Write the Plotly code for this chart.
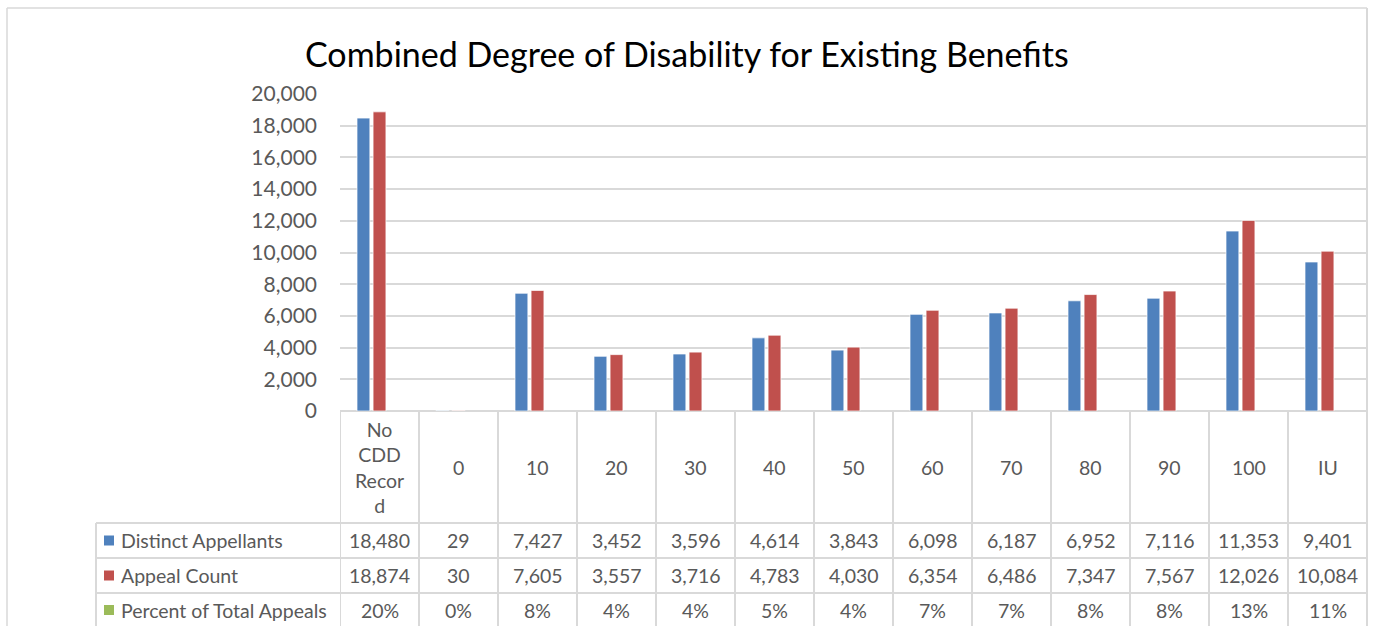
import plotly.graph_objects as go

# ---------------- data ----------------
categories = ["No CDD Record", "0", "10", "20", "30", "40", "50", "60", "70", "80", "90", "100", "IU"]
category_labels = ["No<br>CDD<br>Recor<br>d", "0", "10", "20", "30", "40", "50", "60", "70", "80", "90", "100", "IU"]
distinct_appellants = [18480, 29, 7427, 3452, 3596, 4614, 3843, 6098, 6187, 6952, 7116, 11353, 9401]
appeal_count = [18874, 30, 7605, 3557, 3716, 4783, 4030, 6354, 6486, 7347, 7567, 12026, 10084]
percent_of_total = [20, 0, 8, 4, 4, 5, 4, 7, 7, 8, 8, 13, 11]  # percent
series_names = ["Distinct Appellants", "Appeal Count", "Percent of Total Appeals"]
y_ticks = [0, 2000, 4000, 6000, 8000, 10000, 12000, 14000, 16000, 18000, 20000]

# ---------------- styling ----------------
W, H = 1375, 626
FONT = "Lato"
GRAY_TXT = "#595959"
LINE = "#d9d9d9"
COLORS = ["#4F81BD", "#C0504D", "#9BBB59"]
OUTLINE_W = [1, 1, 0]

# plot area in pixels
PX_L, PX_R, PX_T, PX_B = 340, 1367, 94, 411
TBL_L = 96
ROW_LINES = [523, 558, 593]
ROW_CENTERS = [540.5, 575.5, 610]
CAT_CENTER = 467
TXT = 19.5


def px(x):
    return x / W


def py(y):
    return 1 - y / H


fig = go.Figure()
series_values = [distinct_appellants, appeal_count, [p / 100 for p in percent_of_total]]
for name, vals, col, lw in zip(series_names, series_values, COLORS, OUTLINE_W):
    fig.add_trace(go.Bar(
        x=list(range(len(categories))), y=vals, name=name,
        hovertext=categories,
        marker=dict(color=col, line=dict(color="rgba(255,255,255,0.7)", width=lw)),
    ))


def seg(x0, y0, x1, y1, xref="paper", width=2):
    return dict(type="line", xref=xref, yref="paper", x0=x0, x1=x1, y0=y0, y1=y1,
                line=dict(color=LINE, width=width))


shapes = []
# outer chart border (top, left, right; bottom is outside the view)
shapes.append(seg(px(7), py(8), px(1367), py(8), width=1.5))
shapes.append(seg(px(7), py(8), px(7), py(H), width=1.5))
shapes.append(seg(px(1367), py(8), px(1367), py(H), width=2))
# table horizontal lines
for yy in ROW_LINES:
    shapes.append(seg(px(TBL_L), py(yy), px(PX_R), py(yy)))
# left border of series label column
shapes.append(seg(px(TBL_L), py(ROW_LINES[0]), px(TBL_L), py(H)))
# vertical column separators (category boundaries)
for k in range(len(categories)):
    shapes.append(seg(k - 0.5, py(PX_B), k - 0.5, py(H), xref="x"))
# legend keys
for i, col in enumerate(COLORS):
    cy = ROW_CENTERS[i]
    shapes.append(dict(type="rect", xref="paper", yref="paper",
                       x0=px(104), x1=px(114), y0=py(cy + 5), y1=py(cy - 5),
                       fillcolor=col, line=dict(width=0)))

annotations = []
# title
annotations.append(dict(text="Combined Degree of Disability for Existing Benefits",
                        xref="paper", yref="paper", x=px(687), y=py(53),
                        xanchor="center", yanchor="middle", showarrow=False,
                        font=dict(family=FONT, size=34, color="#000000")))
# category labels
for i, lab in enumerate(category_labels):
    annotations.append(dict(text=lab, xref="x", yref="paper", x=i, y=py(CAT_CENTER),
                            xanchor="center", yanchor="middle", showarrow=False,
                            font=dict(family=FONT, size=TXT, color=GRAY_TXT)))
# series labels
for i, name in enumerate(series_names):
    annotations.append(dict(text=name, xref="paper", yref="paper", x=px(119), y=py(ROW_CENTERS[i]),
                            xanchor="left", yanchor="middle", showarrow=False,
                            font=dict(family=FONT, size=TXT, color=GRAY_TXT)))
# table values
rows_text = [
    [f"{v:,}" for v in distinct_appellants],
    [f"{v:,}" for v in appeal_count],
    [f"{v}%" for v in percent_of_total],
]
for i, row in enumerate(rows_text):
    for j, t in enumerate(row):
        annotations.append(dict(text=t, xref="x", yref="paper", x=j, y=py(ROW_CENTERS[i]),
                                xanchor="center", yanchor="middle", showarrow=False,
                                font=dict(family=FONT, size=TXT, color=GRAY_TXT)))

fig.update_layout(
    width=W, height=H,
    margin=dict(l=0, r=0, t=0, b=0, autoexpand=False),
    paper_bgcolor="white", plot_bgcolor="white",
    showlegend=False,
    barmode="group", bargap=0.39, bargroupgap=0.2,
    shapes=shapes, annotations=annotations,
    font=dict(family=FONT, color=GRAY_TXT),
    xaxis=dict(domain=[px(PX_L), px(PX_R)], range=[-0.5, len(categories) - 0.5],
               showticklabels=False, showgrid=False, zeroline=False, showline=False,
               automargin=False, fixedrange=True),
    yaxis=dict(domain=[py(PX_B), py(PX_T)], range=[0, 20000], tickvals=y_ticks,
               tickformat=",", showgrid=True, gridcolor=LINE, gridwidth=2,
               zeroline=True, zerolinecolor=LINE, zerolinewidth=2,
               tickfont=dict(family=FONT, size=21, color=GRAY_TXT),
               ticklabelstandoff=22, showline=False, automargin=False, fixedrange=True),
)

post = (
    "document.body.style.margin='0';"
    "document.body.style.overflow='hidden';"
)

fig.write_html("out.html", config={"displayModeBar": False}, post_script=post)
